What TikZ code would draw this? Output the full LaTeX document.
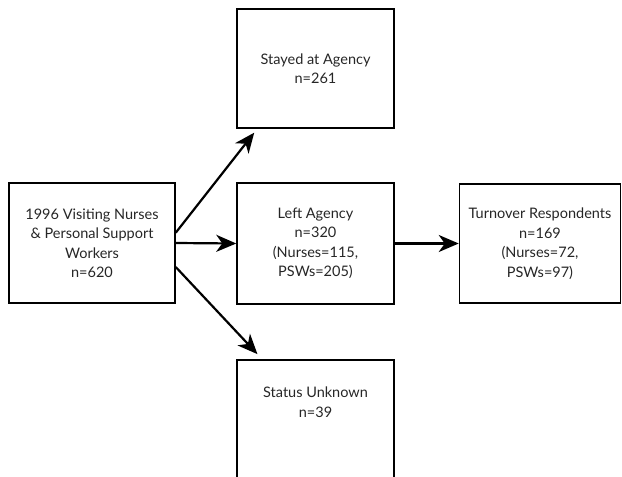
\documentclass[tikz,border=0pt]{standalone}
\usepackage{fontspec}
\setmainfont{Lato}
\usepackage{tikz}
\usetikzlibrary{arrows.meta, positioning}

\begin{document}
\begin{tikzpicture}[x=1pt, y=-1pt,
        box/.style={draw, line width=1.5pt, rectangle, minimum height=120pt, minimum width=157pt, align=center, inner sep=2pt, font=\fontsize{14.5}{19.5}\selectfont, text=black!85},
        arrow/.style={line width=2.2pt, -{Stealth[length=20pt, width=17pt, inset=6pt]}}
    ]
        \useasboundingbox (0,0) rectangle (622,477);
        \node (workers) [box, minimum width=166pt] at (92,243) {1996 Visiting Nurses\\ \& Personal Support\\ Workers\\ n=620};
        \node (stayed) [box, minimum height=119pt] at (315.5,68.5) {Stayed at Agency\\ n=261};
        \node (left) [box, minimum height=121pt] at (315.5,243.5) {Left Agency\\ n=320\\ (Nurses=115,\\ PSWs=205)};
        \node (turnover) [box, minimum width=161pt, minimum height=119pt] at (540,243.5) {Turnover Respondents\\ n=169\\ (Nurses=72,\\ PSWs=97)};
        \node (unknown) [box, minimum height=130pt] at (315.5,425) {Status Unknown\\ n=39\\[26pt]};
        \draw [arrow, shorten >=5pt] (workers.7) -- (stayed.226);
        \draw [arrow] (workers.east) -- (left.west);
        \draw [arrow, shorten >=7pt] (workers.-16) -- (unknown.129);
        \draw [arrow] (left.east) -- (turnover.west);
    \end{tikzpicture}
\end{document}
